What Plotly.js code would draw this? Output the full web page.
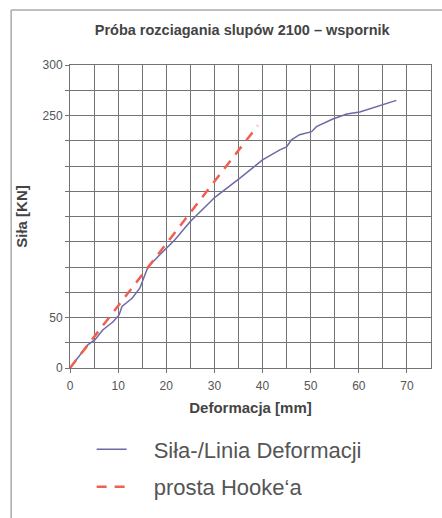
<!DOCTYPE html>
<html>
<head>
<meta charset="utf-8">
<script src="https://cdn.plot.ly/plotly-3.0.1.min.js"></script>
<style>html,body{margin:0;padding:0;background:#fff;}#chart{width:442px;height:518px;}</style>
</head>
<body>
<div id="chart"></div>
<script>
// Siła-/Linia Deformacji (blue curve)
const deformacja = [0, 2.1, 3.7, 5.2, 6.8, 8.9, 10.2, 10.8, 12.9, 14.5, 15.2, 16.2, 18, 20.1, 21.8, 24.9, 30.1, 35.3, 40, 43.6, 45, 46, 47.7, 50.2, 51.2, 54.6, 57.5, 60.2, 64.3, 67.8];
const sila = [0, 13, 23, 28, 37.6, 45.5, 52.5, 61, 69, 79, 87, 100, 109, 119, 127, 144.5, 169, 188, 206, 216, 219, 226, 231, 234, 239, 246.5, 251.5, 253.5, 259.4, 265];
// prosta Hooke'a (red dashed)
const hookeX = [0, 39];
const hookeY = [0, 240];
const yTickVals = [0, 50, 250, 300];
const yTickText = ['0', '50', '250', '300'];
const xTickVals = [0, 10, 20, 30, 40, 50, 60, 70];

const font = 'Liberation Sans, Arial, sans-serif';
const gridC = '#737373';

const traces = [
  {x: deformacja, y: sila, type: 'scatter', mode: 'lines', name: '\u2002\u2002Siła-/Linia Deformacji',
   line: {color: '#6b6aa8', width: 1.5}, legendgroup: 'a'},
  {x: hookeX, y: hookeY, type: 'scatter', mode: 'lines', name: '\u2002\u2002prosta Hooke\u2018a',
   line: {color: '#f0604e', width: 2.5, dash: '10px,8px'}, legendgroup: 'b'}
];

const layout = {
  width: 442, height: 518,
  margin: {l: 70, r: 10.5, t: 65, b: 150},
  paper_bgcolor: '#fff', plot_bgcolor: '#fff',
  font: {family: font, color: '#444'},
  title: {text: '<b>Próba rozciagania slupów 2100 – wspornik</b>', x: 0.548, xanchor: 'center', y: 0.942, yanchor: 'middle',
          font: {family: font, size: 14.5, color: '#444'}},
  xaxis: {range: [0, 75], tickvals: xTickVals, showgrid: true, gridcolor: gridC, gridwidth: 1,
          minor: {dtick: 5, showgrid: true, gridcolor: gridC, gridwidth: 1, ticks: ''},
          ticks: 'outside', ticklen: 4, tickcolor: gridC, ticklabelstandoff: 3,
          showline: true, mirror: true, linecolor: gridC, linewidth: 1, zeroline: false, automargin: false,
          tickfont: {size: 12, color: '#555'},
          title: {text: '<b>Deformacja [mm]</b>', font: {size: 15, color: '#444'}, standoff: 10}},
  yaxis: {range: [0, 300], tickvals: yTickVals, ticktext: yTickText, showgrid: true, gridcolor: gridC, gridwidth: 1,
          minor: {dtick: 25, showgrid: true, gridcolor: gridC, gridwidth: 1, ticks: 'outside', ticklen: 4, tickcolor: gridC},
          ticks: 'outside', ticklen: 4, tickcolor: gridC,
          showline: true, mirror: true, linecolor: gridC, linewidth: 1, zeroline: false, automargin: false,
          tickfont: {size: 12, color: '#555'},
          title: {text: '<b>Siła [KN]</b>', font: {size: 15, color: '#444'}, standoff: 11}},
  showlegend: true,
  legend: {x: 0.06, xanchor: 'left', yref: 'container', y: 0.173, yanchor: 'top', orientation: 'v',
           font: {family: font, size: 22, color: '#555'}, tracegroupgap: 6,
           bgcolor: 'rgba(0,0,0,0)'},
  shapes: [
    {type: 'line', xref: 'paper', yref: 'paper', x0: -0.163, x1: -0.163, y0: 1.1815, y1: -0.5, line: {color: '#aaa', width: 1.5}},
    {type: 'line', xref: 'paper', yref: 'paper', x0: -0.163, x1: 1.04, y0: 1.1815, y1: 1.1815, line: {color: '#aaa', width: 1.5}}
  ]
};

Plotly.newPlot('chart', traces, layout, {displayModeBar: false, staticPlot: true});
</script>
</body>
</html>
